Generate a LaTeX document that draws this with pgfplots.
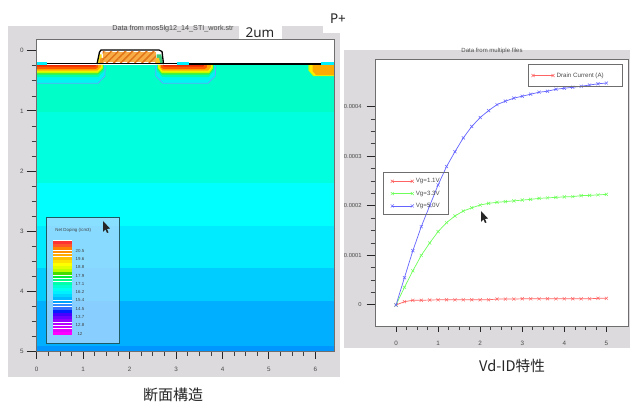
\documentclass[border=0pt]{standalone}
\usepackage{pgfplots}
\pgfplotsset{compat=1.18}
\usepackage{fontspec}
\setmainfont{Liberation Sans}
\newfontfamily\cjk{Noto Sans CJK JP}
\newfontfamily\uif{Noto Sans}
\usetikzlibrary{patterns.meta}
\definecolor{panel}{RGB}{220,218,220}
\definecolor{tickc}{RGB}{75,75,75}
\definecolor{framec}{RGB}{110,110,110}
% rectangular band in the cross-section
\newcommand\band[5]{\addplot[fill={rgb,255:red,#3;green,#4;blue,#5},draw=none,forget plot] coordinates {(-0.1,#1)(6.5,#1)(6.5,#2)(-0.1,#2)} --cycle;}
% chamfered junction: xl, xl+c, xr-c, xr, ymid, ydepth, rgb
\newcommand\junc[9]{\addplot[fill={rgb,255:red,#7;green,#8;blue,#9},draw=none,forget plot] coordinates {(#1,0.238)(#1,#5)(#2,#6)(#3,#6)(#4,#5)(#4,0.238)} --cycle;}
% legend stripe
\newcommand\stripe[5]{\addplot[fill={rgb,255:red,#3;green,#4;blue,#5},draw=none,forget plot] coordinates {(0.357,#1)(0.754,#1)(0.754,#2)(0.357,#2)} --cycle;}
\newcommand\tickf{\fontsize{6.3}{7}\selectfont}
\newcommand\smf{\fontsize{4.4}{5}\selectfont}
\begin{document}
\begin{tikzpicture}[x=1pt,y=1pt]
\path[use as bounding box,fill=white] (0,0) rectangle (630,403);
\fill[panel] (8,403-377) rectangle (340,403-26);
\fill[panel] (344,403-348) rectangle (630,403-50);
\fill[white] (323,403-33) rectangle (341,403-25);
% ---------- left panel: doping cross-section
\begin{axis}[at={(36.7pt,51.3pt)},anchor=south west,scale only axis,width=297.3pt,height=312.7pt,
  xmin=0,xmax=6.4,ymin=-0.195,ymax=5,y dir=reverse,
  axis background/.style={fill=white},
  axis line style={draw=framec,line width=0.9pt},
  tick align=outside,xtick pos=bottom,ytick=\empty,
  xtick={0,1,2,3,4,5,6},minor x tick num=3,
  tickwidth=7pt,subtickwidth=4pt,
  major tick style={black!85,line width=1pt},minor tick style={black!75,line width=0.7pt},
  xticklabel style={font=\tickf,text=tickc,yshift=-4.5pt},
  /pgf/number format/assume math mode=true]
\band{0.238}{1.018}{0}{255}{200}
\band{1.018}{2.196}{0}{255}{222}
\band{2.196}{2.910}{0}{255}{255}
\band{2.910}{3.610}{0}{235}{255}
\band{3.610}{4.157}{0}{205}{255}
\band{4.157}{4.905}{0}{175}{255}
\band{4.905}{5.1}{0}{150}{255}
% surface cyan pockets
\addplot[fill={rgb,255:red,0;green,240;blue,255},draw=none,forget plot] coordinates {(-0.1,0.179)(0.222,0.179)(0.222,0.25)(-0.1,0.25)} --cycle;
\addplot[fill={rgb,255:red,0;green,240;blue,255},draw=none,forget plot] coordinates {(3.014,0.179)(3.279,0.179)(3.279,0.25)(3.014,0.25)} --cycle;
\addplot[fill={rgb,255:red,0;green,240;blue,255},draw=none,forget plot] coordinates {(6.110,0.179)(6.5,0.179)(6.5,0.25)(6.110,0.25)} --cycle;
% left implant
\junc{-0.2}{-0.1}{1.320}{1.470}{0.417}{0.537}{0}{245}{240}
\addplot[draw={rgb,255:red,90;green,170;blue,255},line width=0.8pt,forget plot] coordinates {(-0.1,0.54)(1.320,0.54)(1.470,0.42)(1.475,0.25)};
\junc{-0.2}{-0.1}{1.320}{1.449}{0.337}{0.437}{0}{255}{170}
\junc{-0.2}{-0.1}{1.318}{1.438}{0.305}{0.395}{60}{240}{60}
\junc{-0.2}{-0.1}{1.317}{1.427}{0.290}{0.370}{190}{255}{0}
\junc{-0.2}{-0.1}{1.316}{1.406}{0.276}{0.346}{255}{240}{0}
\junc{-0.2}{-0.1}{1.304}{1.384}{0.269}{0.329}{255}{170}{0}
\junc{-0.2}{-0.1}{1.270}{1.320}{0.274}{0.304}{255}{90}{0}
\junc{-0.2}{-0.1}{1.257}{1.277}{0.252}{0.262}{240}{40}{0}
% middle implant
\junc{2.568}{2.718}{3.689}{3.839}{0.417}{0.537}{0}{245}{240}
\addplot[draw={rgb,255:red,90;green,170;blue,255},line width=0.8pt,forget plot] coordinates {(2.56,0.25)(2.565,0.42)(2.718,0.54)(3.689,0.54)(3.845,0.42)(3.85,0.25)};
\junc{2.590}{2.710}{3.697}{3.817}{0.337}{0.437}{0}{255}{170}
\junc{2.601}{2.701}{3.706}{3.806}{0.305}{0.395}{60}{240}{60}
\junc{2.611}{2.691}{3.715}{3.795}{0.290}{0.370}{190}{255}{0}
\junc{2.622}{2.692}{3.704}{3.774}{0.276}{0.346}{255}{240}{0}
\junc{2.644}{2.704}{3.692}{3.752}{0.269}{0.329}{255}{170}{0}
\junc{2.676}{2.726}{3.616}{3.666}{0.274}{0.304}{255}{90}{0}
\junc{2.719}{2.739}{3.581}{3.601}{0.252}{0.262}{240}{40}{0}
% right implant
\junc{5.851}{5.951}{6.5}{6.6}{0.330}{0.420}{190}{255}{0}
\junc{5.873}{5.973}{6.5}{6.6}{0.330}{0.412}{255}{235}{0}
\junc{5.938}{6.018}{6.5}{6.6}{0.340}{0.404}{255}{170}{0}
% gate: spacers, poly, outline
\addplot[fill=white,draw=none,forget plot] coordinates {(1.298,0.221)(1.352,0.022)(1.384,-0.012)(2.633,-0.012)(2.698,0.013)(2.730,0.221)} --cycle;
\addplot[fill={rgb,255:red,250;green,225;blue,30},draw=none,forget plot] coordinates {(1.30,0.221)(1.345,0.06)(1.40,0.06)(1.40,0.221)} --cycle;
\addplot[fill={rgb,255:red,240;green,150;blue,40},draw=none,forget plot] coordinates {(1.345,0.221)(1.375,0.12)(1.44,0.12)(1.44,0.221)} --cycle;
\addplot[fill={rgb,255:red,60;green,200;blue,120},draw=none,forget plot] coordinates {(2.58,0.221)(2.58,0.06)(2.68,0.06)(2.72,0.221)} --cycle;
\addplot[fill={rgb,255:red,250;green,190;blue,40},draw=none,forget plot] coordinates {(2.56,0.221)(2.56,0.12)(2.635,0.12)(2.66,0.221)} --cycle;
\addplot[fill={rgb,255:red,248;green,172;blue,70},draw=none,forget plot] coordinates {(1.421,0.017)(2.568,0.017)(2.568,0.188)(1.421,0.188)} --cycle;
\addplot[pattern={Lines[angle=45,distance=5pt,line width=1.5pt]},pattern color={rgb,255:red,225;green,115;blue,25},draw=none,forget plot] coordinates {(1.421,0.017)(2.568,0.017)(2.568,0.188)(1.421,0.188)} --cycle;
\addplot[black,line width=1.3pt,forget plot] coordinates {(1.298,0.221)(1.352,0.022)(1.384,-0.012)(2.633,-0.012)(2.698,0.013)(2.730,0.221)};
\addplot[black,line width=1.4pt,forget plot] coordinates {(0.222,0.213)(3.020,0.213)};
\addplot[black,line width=1.4pt,forget plot] coordinates {(3.279,0.221)(6.12,0.221)};
% doping legend
\addplot[fill={rgb,255:red,170;green,215;blue,255},fill opacity=0.8,draw={rgb,255:red,30;green,90;blue,100},line width=0.8pt,forget plot] coordinates {(0.2,2.763)(1.771,2.763)(1.771,4.856)(0.2,4.856)} --cycle;
\addplot[fill=white,draw=none,forget plot] coordinates {(0.345,3.15)(0.766,3.15)(0.766,4.73)(0.345,4.73)} --cycle;
\stripe{3.163}{3.209}{255}{50}{50}
\stripe{3.215}{3.261}{255}{85}{40}
\stripe{3.267}{3.313}{255}{130}{0}
\stripe{3.319}{3.365}{255}{145}{0}
\stripe{3.371}{3.417}{255}{170}{0}
\stripe{3.423}{3.469}{255}{195}{0}
\stripe{3.475}{3.521}{255}{225}{0}
\stripe{3.527}{3.573}{255}{255}{0}
\stripe{3.579}{3.625}{225}{255}{0}
\stripe{3.631}{3.677}{190}{255}{0}
\stripe{3.683}{3.729}{70}{220}{0}
\stripe{3.735}{3.781}{0}{240}{60}
\stripe{3.787}{3.833}{0}{255}{130}
\stripe{3.839}{3.885}{0}{255}{170}
\stripe{3.891}{3.937}{0}{255}{210}
\stripe{3.943}{3.989}{0}{255}{240}
\stripe{3.995}{4.041}{0}{240}{255}
\stripe{4.047}{4.093}{0}{215}{255}
\stripe{4.099}{4.145}{0}{185}{255}
\stripe{4.151}{4.197}{0}{160}{255}
\stripe{4.203}{4.249}{50}{140}{255}
\stripe{4.255}{4.301}{50}{110}{255}
\stripe{4.307}{4.353}{0}{30}{255}
\stripe{4.359}{4.405}{70}{0}{255}
\stripe{4.411}{4.457}{110}{0}{255}
\stripe{4.463}{4.509}{150}{0}{255}
\stripe{4.515}{4.561}{180}{0}{255}
\stripe{4.567}{4.613}{205}{0}{255}
\stripe{4.619}{4.665}{230}{0}{255}
\stripe{4.671}{4.717}{255}{0}{255}
\node[font=\smf,text=black!75] at (axis cs:0.787,2.98) {Net Doping (/cm3)};
\node[font=\smf,text=black!75] at (axis cs:0.932,3.322) {20.5};
\node[font=\smf,text=black!75] at (axis cs:0.932,3.46) {19.6};
\node[font=\smf,text=black!75] at (axis cs:0.932,3.595) {18.8};
\node[font=\smf,text=black!75] at (axis cs:0.932,3.735) {17.9};
\node[font=\smf,text=black!75] at (axis cs:0.932,3.87) {17.1};
\node[font=\smf,text=black!75] at (axis cs:0.932,4.005) {16.2};
\node[font=\smf,text=black!75] at (axis cs:0.932,4.14) {15.4};
\node[font=\smf,text=black!75] at (axis cs:0.932,4.285) {14.5};
\node[font=\smf,text=black!75] at (axis cs:0.932,4.42) {13.7};
\node[font=\smf,text=black!75] at (axis cs:0.932,4.555) {12.8};
\node[font=\smf,text=black!75] at (axis cs:0.932,4.705) {12};
\end{axis}
% y ticks of the left panel
\begin{axis}[at={(36.7pt,51.3pt)},anchor=south west,scale only axis,width=297.3pt,height=312.7pt,
  xmin=0,xmax=6.4,ymin=-0.195,ymax=5,y dir=reverse,
  axis line style={draw=framec,line width=0.9pt},
  tick align=outside,ytick pos=left,xtick=\empty,
  ytick={0,1,2,3,4,5},minor y tick num=3,
  tickwidth=10pt,subtickwidth=5pt,
  major tick style={black!85,line width=1pt},minor tick style={black!75,line width=0.7pt},
  yticklabel style={font=\tickf,text=tickc,xshift=0.5pt},
  /pgf/number format/assume math mode=true]
\end{axis}
% white patches and texts
\fill[white] (239,403-39.5) rectangle (282,403-25);
\node[font=\fontsize{7.2}{8}\selectfont,text=black!70] at (173,403-29) {Data from mos5lg12\_14\_STI\_work.str};
\node[font=\uif\fontsize{13.5}{14}\selectfont,text=black!85] at (260,403-33) {2um};
\node[font=\uif\fontsize{13.5}{14}\selectfont,text=black!85] at (338,403-19) {P+};
\node[font=\cjk\fontsize{15}{16}\selectfont,text=black!85] at (173,403-395) {断面構造};
\node[font=\cjk\fontsize{14.6}{16}\selectfont,text=black!85] at (512,403-366) {Vd-ID特性};
\node[font=\fontsize{6}{7}\selectfont,text=black!70] at (492,403-50.5) {Data from multiple files};
% ---------- right panel: Vd-Id
\begin{axis}[at={(375.7pt,76.3pt)},anchor=south west,scale only axis,width=253pt,height=267.7pt,
  xmin=-0.483,xmax=5.53,ymin=-0.00004375,ymax=0.000496,
  axis background/.style={fill=white},
  axis line style={draw=framec,line width=0.9pt},
  tick align=outside,xtick pos=bottom,ytick=\empty,
  xtick={0,1,2,3,4,5},minor x tick num=3,
  tickwidth=5pt,subtickwidth=3pt,
  major tick style={black!85,line width=1pt},minor tick style={black!75,line width=0.7pt},
  xticklabel style={font=\tickf,text=tickc,yshift=-6pt},
  /pgf/number format/assume math mode=true,
  legend style={at={(0.03,0.578)},anchor=north west,draw=framec,line width=0.9pt,fill=none,font=\fontsize{6.2}{7}\selectfont,text=tickc,row sep=2.5pt,inner xsep=7pt,inner ysep=4pt},
  legend cell align=left,
  legend image code/.code={\draw[#1] plot coordinates {(0pt,0pt)(20pt,0pt)};},
  every axis plot/.append style={line width=0.7pt,mark=x,mark size=2.2pt,mark options={solid,line width=0.5pt}}]
\addplot[color={rgb,255:red,255;green,100;blue,100}] coordinates {
(0,0)(0.2,0.0000067)(0.4,0.0000095)(0.6,0.0000095)(0.8,0.0000100)(1,0.0000105)(1.2,0.0000105)(1.4,0.0000105)(1.6,0.0000105)(1.8,0.0000105)(2,0.0000105)(2.2,0.0000105)(2.4,0.0000120)(2.6,0.0000120)(2.8,0.0000120)(3,0.0000125)(3.2,0.0000125)(3.4,0.0000125)(3.6,0.0000125)(3.8,0.0000125)(4,0.0000125)(4.2,0.0000125)(4.4,0.0000125)(4.6,0.0000125)(4.8,0.0000135)(5,0.0000135)};
\addlegendentry{Vg=1.1V}
\addplot[color={rgb,255:red,110;green,255;blue,90}] coordinates {
(0,0)(0.2,0.0000357)(0.4,0.0000690)(0.6,0.0001000)(0.8,0.0001250)(1,0.0001480)(1.2,0.0001660)(1.4,0.0001795)(1.6,0.0001895)(1.8,0.0001960)(2,0.0002015)(2.2,0.0002050)(2.4,0.0002070)(2.6,0.0002085)(2.8,0.0002100)(3,0.0002115)(3.2,0.0002130)(3.4,0.0002150)(3.6,0.0002160)(3.8,0.0002170)(4,0.0002180)(4.2,0.0002185)(4.4,0.0002205)(4.6,0.0002210)(4.8,0.0002220)(5,0.0002230)};
\addlegendentry{Vg=3.3V}
\addplot[color={rgb,255:red,100;green,100;blue,255}] coordinates {
(0,0)(0.2,0.0000550)(0.4,0.0001095)(0.6,0.0001580)(0.8,0.0002000)(1,0.0002420)(1.2,0.0002790)(1.4,0.0003090)(1.6,0.0003370)(1.8,0.0003600)(2,0.0003780)(2.2,0.0003920)(2.4,0.0004040)(2.6,0.0004110)(2.8,0.0004170)(3,0.0004210)(3.2,0.0004250)(3.4,0.0004290)(3.6,0.0004310)(3.8,0.0004350)(4,0.0004370)(4.2,0.0004390)(4.4,0.0004410)(4.6,0.0004435)(4.8,0.0004460)(5,0.0004475)};
\addlegendentry{Vg=5.0V}
\end{axis}
% y ticks and second legend of the right panel
\begin{axis}[at={(375.7pt,76.3pt)},anchor=south west,scale only axis,width=253pt,height=267.7pt,
  xmin=-0.483,xmax=5.53,ymin=-0.00004375,ymax=0.000496,
  axis line style={draw=framec,line width=0.9pt},
  tick align=outside,ytick pos=left,xtick=\empty,
  ytick={0,0.0001,0.0002,0.0003,0.0004},yticklabels={0,0.0001,0.0002,0.0003,0.0004},
  scaled y ticks=false,minor y tick num=3,
  tickwidth=9pt,subtickwidth=5pt,
  major tick style={black!85,line width=1pt},minor tick style={black!75,line width=0.7pt},
  yticklabel style={font=\fontsize{5.8}{7}\selectfont,text=tickc,xshift=-1.5pt},
  /pgf/number format/assume math mode=true,
  legend style={at={(0.602,0.981)},anchor=north west,draw=framec,line width=0.9pt,fill=none,font=\fontsize{6.2}{7}\selectfont,text=tickc,inner xsep=3pt,inner ysep=6pt},
  legend image code/.code={\draw[#1] plot coordinates {(0pt,0pt)(20pt,0pt)};}]
\addlegendimage{color={rgb,255:red,255;green,100;blue,100},line width=0.7pt,mark=x,mark size=2.2pt,mark options={solid,line width=0.5pt}}
\addlegendentry{Drain Current (A)\hspace*{14pt}}
\end{axis}
% mouse cursors
\fill[black!85] (103,403-221) -- (103,403-232) -- (105.5,403-229.5) -- (107,403-233) -- (108.5,403-232.5) -- (107,403-229) -- (110,403-228.5) -- cycle;
\fill[black!85] (481,403-211) -- (481,403-222) -- (483.5,403-219.5) -- (485,403-223) -- (486.5,403-222.5) -- (485,403-219) -- (488,403-218.5) -- cycle;
\end{tikzpicture}
\end{document}
